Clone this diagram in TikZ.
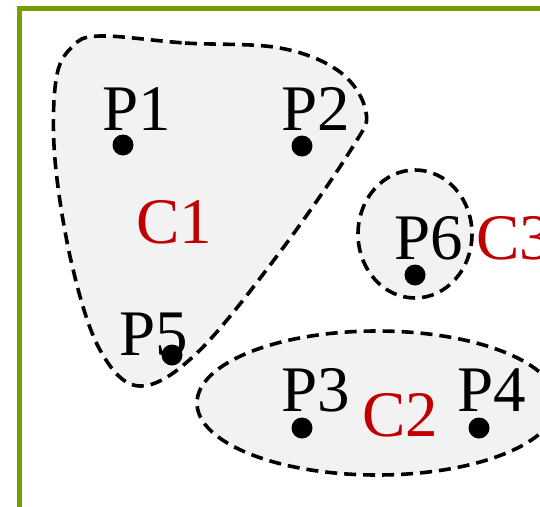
\documentclass[tikz,border=0pt]{standalone}
\usepackage{fontspec}
\setmainfont{Liberation Serif}
\definecolor{framegreen}{RGB}{118,158,0}
\definecolor{clusterred}{RGB}{192,0,0}
\definecolor{clusterfill}{RGB}{242,242,242}
\tikzset{
  pt/.style={circle, fill=black, inner sep=0pt, minimum size=21pt},
  lab/.style={anchor=base west, inner sep=0pt, font=\fontsize{65}{70}\selectfont},
  clab/.style={lab, text=clusterred},
  cluster/.style={draw=black, fill=clusterfill, line width=3.6pt, dash pattern=on 12pt off 7pt},
}
\begin{document}
\begin{tikzpicture}[x=1pt, y=-1pt]
\useasboundingbox (0,0) rectangle (540,506);
\draw[framegreen, line width=5pt] (19.5,520) -- (19.5,8) -- (560,8);
\draw[cluster] plot[smooth cycle, tension=0.6] coordinates {(100,36) (185,43) (280,48) (340,72) (366,112) (352,148) (280,252) (198,352) (140,386) (100,350) (72,265) (55,160) (56,80) (72,47)};
\draw[cluster] (415,234) ellipse [x radius=57, y radius=64];
\draw[cluster] (377,403) ellipse [x radius=180, y radius=72];
\node[pt] (p1) at (123,145) {};
\node[pt] (p2) at (302,146) {};
\node[pt] (p3) at (302,428) {};
\node[pt] (p4) at (479,428) {};
\node[pt] (p5) at (172,355) {};
\node[pt] (p6) at (415,275) {};
\node[lab] (l1) at (102,130) {P1};
\node[lab] (l2) at (281,130) {P2};
\node[lab] (l3) at (281,411) {P3};
\node[lab] (l4) at (457,411) {P4};
\node[lab] (l5) at (119,355) {P5};
\node[lab] (l6) at (394,259) {P6};
\node[clab] (c1) at (136,243) {C1};
\node[clab] (c2) at (362,436) {C2};
\node[clab] (c3) at (476,259) {C3};
\end{tikzpicture}
\end{document}
